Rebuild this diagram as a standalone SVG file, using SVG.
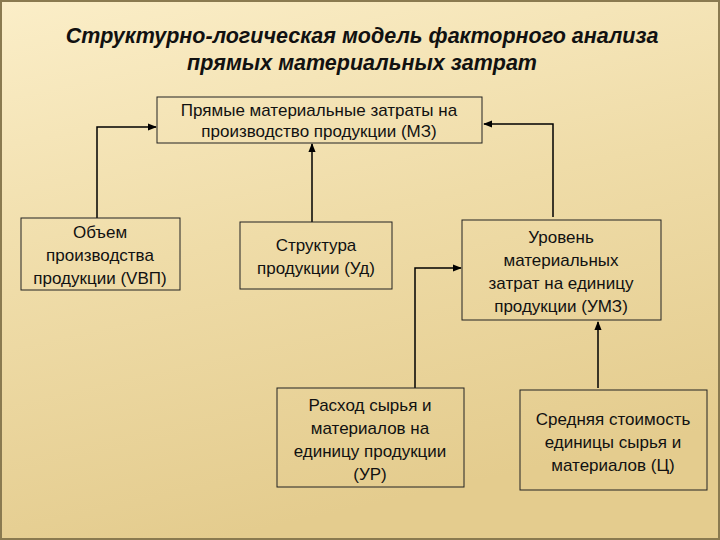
<svg xmlns="http://www.w3.org/2000/svg" width="720" height="540" viewBox="0 0 720 540">
<defs>
<linearGradient id="bg" x1="0" y1="0" x2="0.3" y2="1">
<stop offset="0" stop-color="#fbeec8"/><stop offset="0.5" stop-color="#efdca8"/><stop offset="1" stop-color="#e4cc8e"/>
</linearGradient>
<marker id="ah" viewBox="0 0 10 10" refX="9" refY="5" markerWidth="6" markerHeight="6" orient="auto"><path d="M0,1 L10,5 L0,9 Z" fill="#000"/></marker>
<style>
.box{fill:none;stroke:#222;stroke-width:1}
.t{font-family:"Liberation Sans",Arial,sans-serif;font-size:17px;fill:#111;text-anchor:middle}
.c{fill:none;stroke:#000;stroke-width:1.5;marker-end:url(#ah)}
.h{font-family:"Liberation Sans",Arial,sans-serif;font-size:21.5px;font-weight:bold;font-style:italic;fill:#111;text-anchor:middle}
</style>
</defs>
<rect x="0" y="0" width="720" height="540" fill="url(#bg)"/>
<rect x="1" y="1" width="718" height="538" fill="none" stroke="#8a7a50" stroke-width="2"/>
<text class="h" x="362" y="43">Структурно-логическая модель факторного анализа</text>
<text class="h" x="362" y="70">прямых материальных затрат</text>
<g id="connectors">
<path class="c" d="M97,218 V127 H156"/>
<path class="c" d="M312,222 V144"/>
<path class="c" d="M553,217 V124 H484"/>
<path class="c" d="M415,388 V268 H461"/>
<path class="c" d="M598,388 V322"/>
</g>
<g id="mz"><rect class="box" x="157" y="97" width="325" height="46"/>
<text class="t" x="319" y="116">Прямые материальные затраты на</text><text class="t" x="319" y="137">производство продукции (МЗ)</text></g>
<g id="vbp"><rect class="box" x="21" y="218" width="159" height="72"/>
<text class="t" x="100" y="238">Объем</text><text class="t" x="100" y="261">производства</text><text class="t" x="100" y="284">продукции (VВП)</text></g>
<g id="ud"><rect class="box" x="240" y="222" width="152" height="67"/>
<text class="t" x="316" y="251">Структура</text><text class="t" x="316" y="274">продукции (Уд)</text></g>
<g id="umz"><rect class="box" x="462" y="220" width="199" height="100"/>
<text class="t" x="561" y="243">Уровень</text><text class="t" x="561" y="266">материальных</text><text class="t" x="561" y="289">затрат на единицу</text><text class="t" x="561" y="312">продукции (УМЗ)</text></g>
<g id="ur"><rect class="box" x="277" y="388" width="187" height="99"/>
<text class="t" x="370" y="411">Расход сырья и</text><text class="t" x="370" y="434">материалов на</text><text class="t" x="370" y="457">единицу продукции</text><text class="t" x="370" y="480">(УР)</text></g>
<g id="c"><rect class="box" x="520" y="390" width="187" height="100"/>
<text class="t" x="613" y="425">Средняя стоимость</text><text class="t" x="613" y="448">единицы сырья и</text><text class="t" x="613" y="471">материалов (Ц)</text></g>
</svg>
